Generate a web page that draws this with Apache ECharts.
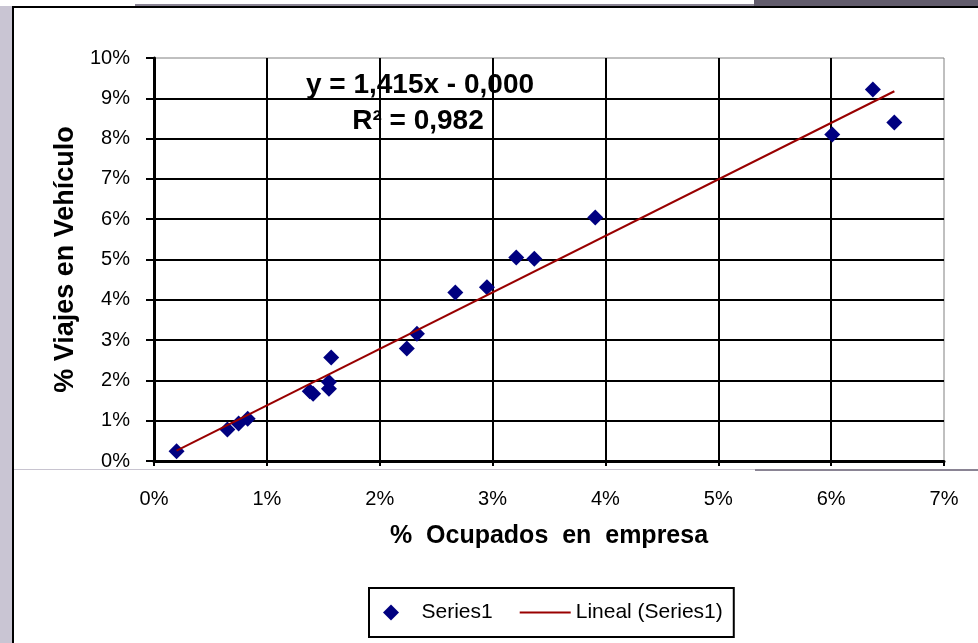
<!DOCTYPE html>
<html>
<head>
<meta charset="utf-8">
<script src="https://cdn.jsdelivr.net/npm/echarts@6/dist/echarts.min.js"></script>
<style>
  html, body { margin: 0; padding: 0; background: #fff; }
  #chart { width: 978px; height: 643px; }
</style>
</head>
<body>
<div id="chart"></div>
<script>
// % ocupados en empresa (x) and % viajes en vehículo (y)
const ocupados = [0.20, 0.65, 0.75, 0.83, 1.38, 1.41, 1.55, 1.55, 1.57, 2.24, 2.33, 2.67, 2.95, 3.21, 3.37, 3.91, 6.01, 6.37, 6.56];
const viajes   = [0.24, 0.78, 0.93, 1.05, 1.73, 1.67, 1.79, 1.96, 2.57, 2.79, 3.16, 4.18, 4.31, 5.05, 5.02, 6.04, 8.10, 9.22, 8.40];

const equationText = 'y = 1,415x - 0,000';
const r2Text = 'R² = 0,982';

// least squares trend line through the points
function trend(xs, ys) {
  const n = xs.length;
  let sx = 0, sy = 0, sxx = 0, sxy = 0;
  for (let i = 0; i < n; i++) {
    sx += xs[i]; sy += ys[i]; sxx += xs[i] * xs[i]; sxy += xs[i] * ys[i];
  }
  const m = (n * sxy - sx * sy) / (n * sxx - sx * sx);
  const b = (sy - m * sx) / n;
  const x0 = Math.min(...xs), x1 = Math.max(...xs);
  return [[x0, m * x0 + b], [x1, m * x1 + b]];
}

const font = 'Liberation Sans, Arial, sans-serif';
const points = ocupados.map((x, i) => [x, viajes[i]]);

const option = {
  backgroundColor: '#ffffff',
  animation: false,
  grid: {
    left: 154, right: 34, top: 58, bottom: 182,
    show: true, borderColor: '#808080', borderWidth: 1
  },
  xAxis: {
    type: 'value', min: 0, max: 7, interval: 1,
    name: '%  Ocupados  en  empresa',
    nameLocation: 'middle', nameGap: 63,
    nameTextStyle: { fontFamily: font, fontSize: 25, fontWeight: 'bold', color: '#000' },
    axisLine: { lineStyle: { color: '#000', width: 3 } },
    axisTick: { show: true, length: 5, lineStyle: { color: '#000', width: 2 } },
    axisLabel: { formatter: '{value}%', margin: 28, fontFamily: font, fontSize: 20, color: '#000' },
    splitLine: { show: true, showMaxLine: false, lineStyle: { color: '#000', width: 2 } }
  },
  yAxis: {
    type: 'value', min: 0, max: 10, interval: 1,
    name: '% Viajes en Vehículo',
    nameLocation: 'middle', nameGap: 74,
    nameTextStyle: { fontFamily: font, fontSize: 27, fontWeight: 'bold', color: '#000' },
    axisLine: { lineStyle: { color: '#000', width: 3 } },
    axisTick: { show: true, length: 8, lineStyle: { color: '#000', width: 2 } },
    axisLabel: { formatter: '{value}%', margin: 24, fontFamily: font, fontSize: 20, color: '#000' },
    splitLine: { show: true, showMaxLine: false, lineStyle: { color: '#000', width: 2 } }
  },
  legend: {
    left: 369, top: 588,
    borderColor: '#000', borderWidth: 2,
    padding: [14, 11, 14, 14],
    itemWidth: 51, itemHeight: 16, itemGap: 27,
    textStyle: { fontFamily: font, fontSize: 21, color: '#000' },
    data: [
      { name: 'Series1', icon: 'path://M7,0L14,7L7,14L0,7Z' },
      { name: 'Lineal (Series1)', icon: 'path://M0,0L51,0L51,2L0,2Z' }
    ]
  },
  graphic: [
    { type: 'rect', shape: { x: 0, y: 6, width: 12, height: 637 }, style: { fill: '#c9c5d3' }, z: 50 },
    { type: 'rect', shape: { x: 12, y: 6, width: 2, height: 637 }, style: { fill: '#000' }, z: 50 },
    { type: 'rect', shape: { x: 754, y: 0, width: 224, height: 6 }, style: { fill: '#625c6c' }, z: 50 },
    { type: 'rect', shape: { x: 135, y: 4, width: 619, height: 2 }, style: { fill: '#8a8494' }, z: 50 },
    { type: 'rect', shape: { x: 12, y: 6, width: 966, height: 2 }, style: { fill: '#000' }, z: 50 },
    { type: 'rect', shape: { x: 14, y: 469, width: 741, height: 1 }, style: { fill: '#c8c4d0' }, z: 50 },
    { type: 'rect', shape: { x: 755, y: 469, width: 223, height: 2 }, style: { fill: '#8a8494' }, z: 50 },
    {
      type: 'text', x: 420, y: 85, z: 60,
      style: { text: equationText, fontFamily: font, fontSize: 28, fontWeight: 'bold', fill: '#000', align: 'center', verticalAlign: 'middle' }
    },
    {
      type: 'text', x: 418, y: 121, z: 60,
      style: { text: r2Text, fontFamily: font, fontSize: 28, fontWeight: 'bold', fill: '#000', align: 'center', verticalAlign: 'middle' }
    }
  ],
  series: [
    {
      name: 'Series1',
      type: 'scatter',
      symbol: 'diamond',
      symbolSize: 16,
      itemStyle: { color: '#000080', opacity: 1 },
      data: points,
      z: 3
    },
    {
      name: 'Lineal (Series1)',
      type: 'line',
      symbol: 'none',
      lineStyle: { color: '#990000', width: 2 },
      itemStyle: { color: '#990000' },
      data: trend(ocupados, viajes),
      z: 4
    }
  ]
};

const chart = echarts.init(document.getElementById('chart'));
chart.setOption(option);
</script>
</body>
</html>
